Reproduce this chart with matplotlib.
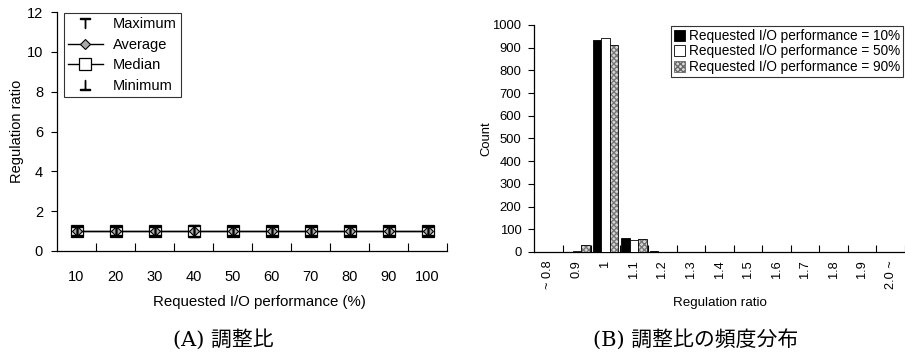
import matplotlib
matplotlib.use("Agg")
import matplotlib.pyplot as plt
from matplotlib.patches import Patch
import numpy as np

plt.rcParams['font.family'] = ['Liberation Sans', 'Noto Sans CJK JP']

# ---- Data: panel A ----
perf_labels = ['10', '20', '30', '40', '50', '60', '70', '80', '90', '100']
ratio_max = [1.02, 1.01, 1.01, 1.03, 1.01, 1.01, 1.01, 1.01, 1.01, 1.01]
ratio_avg = [1.0, 1.0, 1.0, 1.0, 1.0, 1.0, 1.0, 1.0, 1.0, 1.0]
ratio_med = [1.0, 1.0, 1.0, 1.0, 1.0, 1.0, 1.0, 1.0, 1.0, 1.0]
ratio_min = [0.98, 0.99, 0.99, 0.97, 0.99, 0.99, 0.99, 0.99, 0.99, 0.99]

# ---- Data: panel B ----
bin_labels = ['~ 0.8', '0.9', '1', '1.1', '1.2', '1.3', '1.4', '1.5', '1.6',
              '1.7', '1.8', '1.9', '2.0 ~']
count_10 = [0, 0, 935, 63, 3, 0, 0, 0, 0, 0, 0, 0, 0]
count_50 = [0, 6, 942, 52, 0, 0, 0, 0, 0, 0, 0, 0, 0]
count_90 = [0, 33, 912, 56, 0, 0, 0, 0, 0, 0, 0, 0, 0]
series_labels = ['Requested I/O performance = 10%',
                 'Requested I/O performance = 50%',
                 'Requested I/O performance = 90%']

fig = plt.figure(figsize=(9.05, 3.53), dpi=100)

# ================= Panel A =================
axA = fig.add_axes([57/905, 1-251/353, 390/905, 239/353])
x = np.arange(1, len(perf_labels)+1)
axA.plot(x, ratio_med, color='black', lw=1.0, marker='s', ms=8,
         mfc='white', mec='black', mew=0.9, label='Median', zorder=3)
axA.plot(x, ratio_avg, color='black', lw=1.0, marker='D', ms=5.5,
         mfc='#aaaaaa', mec='black', mew=0.8, label='Average', zorder=4)
axA.plot(x, ratio_max, ls='none', marker=r'$\top$', ms=7, color='black',
         label='Maximum', zorder=5)
axA.plot(x, ratio_min, ls='none', marker=r'$\bot$', ms=7, color='black',
         label='Minimum', zorder=5)

axA.set_xlim(0.5, len(perf_labels)+0.5)
axA.set_ylim(0, 12)
axA.set_yticks(np.arange(0, 13, 2))
axA.set_xticks(np.arange(1.5, len(perf_labels)+0.6, 1.0))
axA.set_xticklabels([])
axA.set_xticks(x, minor=True)
axA.set_xticklabels(perf_labels, minor=True)
axA.tick_params(axis='x', which='major', direction='in', length=6, width=0.8)
axA.tick_params(axis='x', which='minor', length=0, pad=14, labelsize=10.5)
axA.tick_params(axis='y', direction='out', length=4, width=0.8, labelsize=10.5, pad=6)
for s in ['top', 'right']:
    axA.spines[s].set_visible(False)
axA.spines['left'].set_linewidth(0.9)
axA.spines['bottom'].set_linewidth(0.9)
axA.set_ylabel('Regulation ratio', fontsize=10.5, labelpad=2)
axA.set_xlabel('Requested I/O performance (%)', fontsize=10.8)
axA.xaxis.set_label_coords(0.52, -0.185)

h, l = axA.get_legend_handles_labels()
order = [l.index(k) for k in ['Maximum', 'Average', 'Median', 'Minimum']]
legA = axA.legend([h[i] for i in order], [l[i] for i in order],
                  loc='upper left', bbox_to_anchor=(0.015, 1.0),
                  fontsize=10.5, frameon=True, fancybox=False,
                  edgecolor='black', borderpad=0.3, labelspacing=0.45,
                  handlelength=2.4, handletextpad=0.7, borderaxespad=0.05)
legA.get_frame().set_linewidth(0.8)

# ================= Panel B =================
axB = fig.add_axes([534/905, 1-252/353, 371/905, 227/353])
xb = np.arange(len(bin_labels))
w = 0.3
axB.bar(xb - w, count_10, width=w, color='black', edgecolor='black',
        lw=0.6, label=series_labels[0], zorder=3)
axB.bar(xb, count_50, width=w, color='white', edgecolor='black',
        lw=0.6, label=series_labels[1], zorder=3)
axB.bar(xb + w, count_90, width=w, color='#d8d8d8', edgecolor='#777777',
        hatch='xxxxxx', lw=0, zorder=3)
axB.bar(xb + w, count_90, width=w, fill=False, edgecolor='black',
        lw=0.6, zorder=4)
handles = [Patch(facecolor='black', edgecolor='black', lw=0.6),
           Patch(facecolor='white', edgecolor='black', lw=0.6),
           Patch(facecolor='#d8d8d8', edgecolor='#666666', hatch='xxxxxx', lw=0.6)]
legB = axB.legend(handles, series_labels, loc='upper right',
                  bbox_to_anchor=(0.995, 0.995), fontsize=9.8, frameon=True,
                  fancybox=False, edgecolor='black', borderpad=0.2,
                  labelspacing=0.12, handlelength=0.85, handleheight=0.85,
                  handletextpad=0.3, borderaxespad=0.0)
legB.get_frame().set_linewidth(0.8)

axB.set_xlim(-0.5, len(bin_labels)-0.5)
axB.set_ylim(0, 1000)
axB.set_yticks(np.arange(0, 1001, 100))
axB.set_xticks(np.arange(0.5, len(bin_labels)-0.4, 1.0))
axB.set_xticklabels([])
axB.set_xticks(xb, minor=True)
axB.set_xticklabels(bin_labels, minor=True, rotation=90, va='top', ha='center')
axB.tick_params(axis='x', which='major', direction='in', length=5, width=0.8)
axB.tick_params(axis='x', which='minor', length=0, pad=6, labelsize=9.2)
axB.tick_params(axis='y', direction='out', length=4, width=0.8, labelsize=9.4, pad=5)
for s in ['top', 'right']:
    axB.spines[s].set_visible(False)
axB.spines['left'].set_linewidth(0.9)
axB.spines['bottom'].set_linewidth(0.9)
axB.set_ylabel('Count', fontsize=9.4, labelpad=0)
axB.set_xlabel('Regulation ratio', fontsize=9.6)
axB.xaxis.set_label_coords(0.5, -0.2)

# Captions
cap_family = ['DejaVu Serif', 'Noto Sans CJK JP']
fig.text(223/905, 1-339/353, '(A) 調整比', ha='center', va='center',
         fontsize=15, family=cap_family)
fig.text(696/905, 1-339/353, '(B) 調整比の頻度分布', ha='center', va='center',
         fontsize=15, family=cap_family)

fig.savefig('out.png', dpi=100)
